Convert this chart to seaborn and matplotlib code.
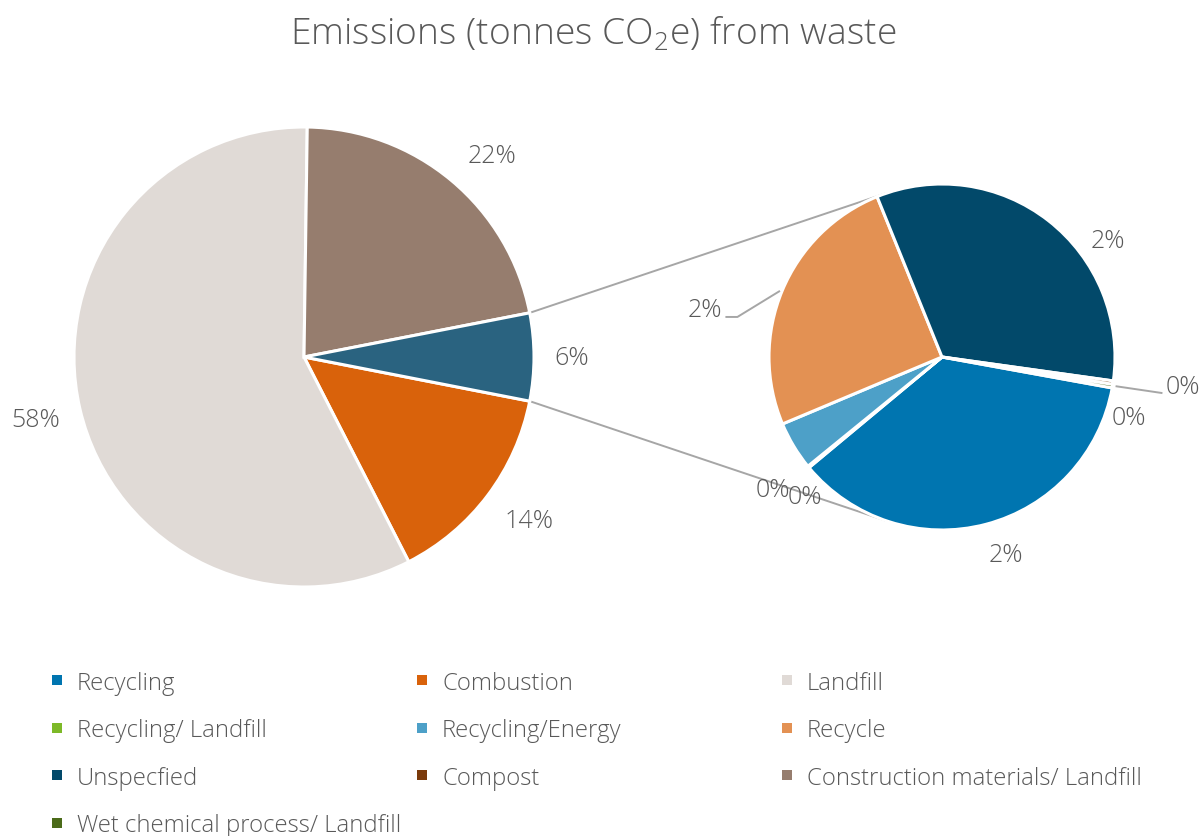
import numpy as np
import matplotlib
matplotlib.use("Agg")
import matplotlib.pyplot as plt
import seaborn as sns
from matplotlib.patches import Rectangle

# ---- data -------------------------------------------------------------
categories = [
    "Recycling", "Combustion", "Landfill",
    "Recycling/ Landfill", "Recycling/Energy", "Recycle",
    "Unspecfied", "Compost", "Construction materials/ Landfill",
    "Wet chemical process/ Landfill",
]
# share of total waste emissions, %
shares = [2.22, 14.4, 57.75, 0.01, 0.28, 1.55, 2.05, 0.02, 21.7, 0.02]
colors = [
    "#0075B0", "#D9620B", "#E0DAD6",
    "#7DB928", "#4DA0C8", "#E39153",
    "#02496A", "#7A3A0B", "#967D6E",
    "#4B6B19",
]
main_items = ["Combustion", "Landfill", "Construction materials/ Landfill"]
other_items = ["Recycling", "Recycling/ Landfill", "Recycling/Energy", "Recycle",
               "Unspecfied", "Compost", "Wet chemical process/ Landfill"]
other_color = "#2A6380"

# ---- style ------------------------------------------------------------
sns.set_theme(style="white")
plt.rcParams["font.family"] = ["Open Sans", "DejaVu Sans"]
plt.rcParams["mathtext.default"] = "regular"
TXT = "#595959"
LINE = "#A6A6A6"
W, H = 1202, 837

fig = plt.figure(figsize=(W / 100, H / 100), dpi=100)
ax = fig.add_axes([0, 0, 1, 1])

share = dict(zip(categories, shares))
color = dict(zip(categories, colors))

def fy(y):
    """image-style y (from top) to axis y."""
    return H - y

def pct(v):
    return f"{round(v):.0f}%"

def polar(center, r, ang):
    a = np.deg2rad(ang)
    return center[0] + r * np.cos(a), center[1] + r * np.sin(a)

lab_font = dict(fontsize=18, color=TXT, fontweight="light", ha="center", va="center")

# ---- primary pie ------------------------------------------------------
c1, r1 = np.array([304.0, fy(358)]), 230.0
other_total = sum(share[k] for k in other_items)
main_vals = [share[k] for k in main_items] + [other_total]
main_cols = [color[k] for k in main_items] + [other_color]
start = -other_total / sum(main_vals) * 360 / 2
w_main, _ = ax.pie(main_vals, colors=main_cols, startangle=start, counterclock=False,
                   center=tuple(c1), radius=r1,
                   wedgeprops=dict(edgecolor="white", linewidth=2.2))

# label placement: (angle offset from slice middle, distance as fraction of radius)
main_label_pos = [(1.0, 1.21), (0.0, 1.2), (-3.1, 1.2), (0.0, 1.165)]
for w, v, (da, d) in zip(w_main, main_vals, main_label_pos):
    mid = (w.theta1 + w.theta2) / 2
    ax.text(*polar(c1, d * r1, mid + da), pct(v), **lab_font)

# ---- secondary pie ----------------------------------------------------
c2, r2 = np.array([942.0, fy(358)]), 173.0
sec_vals = [share[k] for k in other_items]
w_sec, _ = ax.pie(sec_vals, colors=[color[k] for k in other_items], startangle=-10.3,
                  counterclock=False, center=tuple(c2), radius=r2,
                  wedgeprops=dict(edgecolor="white", linewidth=2.2))

# label placement: (angle in degrees, distance as fraction of radius)
sec_label_pos = {
    "Recycling": (-72, 1.2),
    "Recycling/ Landfill": (-142, 1.24),
    "Recycling/Energy": (-134.4, 1.13),
    "Recycle": (168.8, 1.4),
    "Unspecfied": (35, 1.17),
    "Compost": (-6.9, 1.4),
    "Wet chemical process/ Landfill": (-17.8, 1.135),
}
label_xy = {}
for name, v in zip(other_items, sec_vals):
    a, d = sec_label_pos[name]
    xy = polar(c2, d * r2, a)
    label_xy[name] = xy
    ax.text(*xy, pct(v), **lab_font)

# leader lines for the labels set away from their slice
w_by_name = dict(zip(other_items, w_sec))
lx, ly = label_xy["Recycle"]
e = polar(c2, r2 + 2, 157.8)
ax.plot([e[0], lx + 33, lx + 21], [e[1], ly - 7, ly - 7], color=LINE, lw=1.4,
        solid_capstyle="butt")
lx, ly = label_xy["Compost"]
wc = w_by_name["Compost"]
e = polar(c2, r2 + 3, (wc.theta1 + wc.theta2) / 2 - 1.0)
ax.plot([e[0], lx - 20], [e[1], ly - 7], color=LINE, lw=1.4, solid_capstyle="butt")

# ---- connector lines between the two pies ------------------------------
w_other = w_main[-1]
for ang, sign in ((w_other.theta2, 1), (w_other.theta1, -1)):
    p = np.array(polar(c1, r1, ang))
    v = p - c2
    dist = np.hypot(*v)
    t0 = np.arctan2(v[1], v[0])
    t = t0 - sign * np.arccos(r2 / dist)
    q = c2 + r2 * np.array([np.cos(t), np.sin(t)])
    ax.plot([p[0], q[0]], [p[1], q[1]], color=LINE, lw=1.4, zorder=0)

# ---- title --------------------------------------------------------------
ax.text(593, fy(34), r"Emissions (tonnes CO$_2$e) from waste", fontsize=26.8,
        color=TXT, fontweight="light", ha="center", va="center")

# ---- legend (three equal columns, filled row by row) -----------------------
for i, (name, col) in enumerate(zip(categories, colors)):
    row, cc = divmod(i, 3)
    x = 57 + cc * 365
    y = fy(681 + row * 47.5)
    ax.add_patch(Rectangle((x - 5, y - 5), 10, 10, facecolor=col, edgecolor="none"))
    ax.text(x + 20, y, name, fontsize=17.2, color=TXT, fontweight="light",
            ha="left", va="center_baseline")

ax.set_xlim(0, W)
ax.set_ylim(0, H)
ax.set_aspect("equal")
ax.axis("off")
fig.savefig("out.png", dpi=100)
